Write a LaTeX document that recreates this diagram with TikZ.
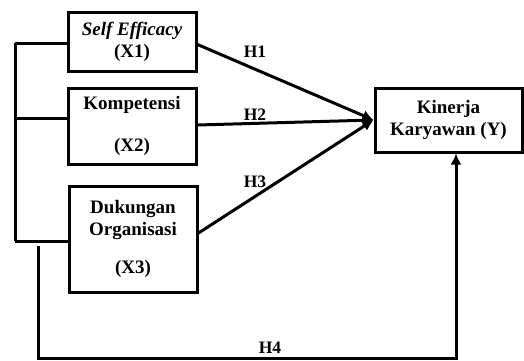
\documentclass[tikz,border=0pt]{standalone}
\usepackage{fontspec}
\setmainfont{Liberation Serif}
\usepackage{tikz}
\usetikzlibrary{positioning}
\usetikzlibrary{calc}
\usetikzlibrary{arrows.meta}

\tikzset{
  varbox/.style={draw, line width=3pt, align=center, inner sep=0pt,
                 font=\fontsize{19}{22}\selectfont\bfseries},
  link/.style={line width=3pt},
  tip/.style={-{Latex[length=11pt,width=11pt]}},
  hlabel/.style={font=\fontsize{17.5}{20}\selectfont\bfseries, inner sep=0pt}
}

\begin{document}
\begin{tikzpicture}[x=1pt, y=-1pt]

\useasboundingbox (0,0) rectangle (524,360);

%---------------------------------------
% Variables
%---------------------------------------
\node[varbox, minimum width=128pt, minimum height=59pt] (x1) at (132,41.5)
      {\textit{Self Efficacy}\\(X1)};
\node[varbox, minimum width=128pt, minimum height=76pt] (x2) at (132,126)
      {Kompetensi\\[20pt](X2)};
\node[varbox, minimum width=128pt, minimum height=106pt] (x3) at (133,239)
      {Dukungan\\Organisasi\\[16pt](X3)};
\node[varbox, minimum width=147pt, minimum height=64pt] (y) at (448.5,120)
      {Kinerja\\Karyawan (Y)};

% meeting point of the arrows
\coordinate (meet) at (y.west);

%---------------------------------------
% Hypotheses H1--H3
%---------------------------------------
\draw[link, tip] ([yshift=-3pt]x1.east) -- (meet);
\draw[link, tip] ([yshift=1pt]x2.east) -- (meet);
\draw[link, tip] ([yshift=6pt]x3.east) -- (meet);

\node[hlabel] (h1) at (255,52) {H1};
\node[hlabel] (h2) at (255,115) {H2};
\node[hlabel] (h3) at (255,182) {H3};

%---------------------------------------
% Left bracket joining X1, X2, X3
%---------------------------------------
\coordinate (top) at (15,43);
\coordinate (bot) at (15,241);
\draw[link] (top) -- (bot);
\draw[link] (top) -- ([yshift=-1.5pt]x1.west);
\draw[link] (15,118) -- ([yshift=8pt]x2.west);
\draw[link] (bot) -- ([yshift=-2pt]x3.west);

%---------------------------------------
% Simultaneous path H4
%---------------------------------------
\coordinate (start) at (38,246);
\draw[link, tip] (start) -- (38,358) -- (456,358) -- ([xshift=7.5pt]y.south);
\node[hlabel] (h4) at (270,348) {H4};

\end{tikzpicture}
\end{document}
